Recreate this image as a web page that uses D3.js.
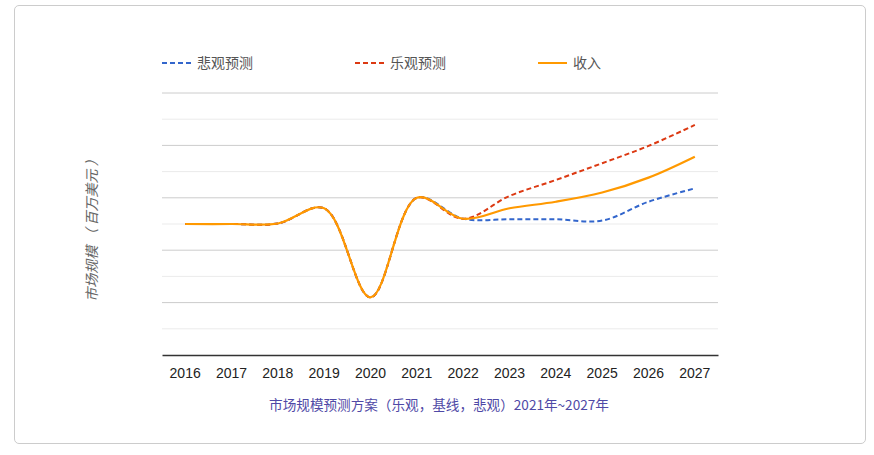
<!DOCTYPE html>
<html>
<head>
<meta charset="utf-8">
<script src="https://cdn.jsdelivr.net/npm/d3@7"></script>
<style>
  body { margin: 0; background: #fff; font-family: "Noto Sans CJK SC", "Noto Sans", sans-serif; }
  #card { position: absolute; left: 14px; top: 5px; width: 852px; height: 439px;
          border: 1px solid #ccc; border-radius: 5px; box-sizing: border-box; }
</style>
</head>
<body>
<div id="card"></div>
<svg id="chart" width="874" height="455" style="position:absolute;left:0;top:0"></svg>
<script>
// données
const years = ["2016","2017","2018","2019","2020","2021","2022","2023","2024","2025","2026","2027"];
const pessimiste = [5.0, 5.0, 5.02, 5.6, 2.2, 6.0, 5.2, 5.18, 5.18, 5.13, 5.85, 6.36];
const optimiste  = [5.0, 5.0, 5.02, 5.6, 2.2, 6.0, 5.2, 6.07, 6.68, 7.32, 7.98, 8.78];
const revenus    = [5.0, 5.0, 5.02, 5.6, 2.2, 6.0, 5.2, 5.6, 5.85, 6.2, 6.77, 7.57];
const gridValues = [1, 2, 3, 4, 5, 6, 7, 8, 9, 10];

const series = [
  { name: "悲观预测", values: pessimiste, color: "#3366cc", dash: "5,3" },
  { name: "乐观预测", values: optimiste, color: "#dc3912", dash: "5,3" },
  { name: "收入", values: revenus, color: "#ff9900", dash: null }
];

const svg = d3.select("#chart");
const plotLeft = 162, plotRight = 718, plotTop = 93, plotBottom = 355;

const x = d3.scaleBand().domain(years).range([plotLeft, plotRight]);
const y = d3.scaleLinear().domain([0, 10]).range([plotBottom, plotTop]);

// lignes de la grille
svg.append("g").selectAll("line")
  .data(gridValues)
  .join("line")
  .attr("x1", plotLeft).attr("x2", plotRight)
  .attr("y1", d => y(d)).attr("y2", d => y(d))
  .attr("stroke", d => d % 2 === 0 ? "#cccccc" : "#ebebeb")
  .attr("stroke-width", 1);

// axe X
const xAxis = svg.append("g")
  .attr("transform", `translate(0,${plotBottom})`)
  .call(d3.axisBottom(x).tickSize(0).tickPadding(13));
xAxis.select(".domain").attr("stroke", "#333").attr("stroke-width", 1.5);
xAxis.selectAll("text")
  .attr("font-size", 14)
  .attr("fill", "#222")
  .attr("font-family", "Arial, 'Liberation Sans', sans-serif");

// courbes
const line = d3.line()
  .x((d, i) => x(years[i]) + x.bandwidth() / 2)
  .y(d => y(d))
  .curve(d3.curveCatmullRom);

svg.append("g").selectAll("path")
  .data(series)
  .join("path")
  .attr("d", d => line(d.values))
  .attr("fill", "none")
  .attr("stroke", d => d.color)
  .attr("stroke-width", d => d.dash ? 2 : 2.2)
  .attr("stroke-dasharray", d => d.dash);

// légende
const legendX = [162, 355, 538];
const legend = svg.append("g").selectAll("g")
  .data(series)
  .join("g")
  .attr("transform", (d, i) => `translate(${legendX[i]},63)`);
legend.append("line")
  .attr("x1", 0).attr("x2", 29)
  .attr("stroke", d => d.color)
  .attr("stroke-width", 2)
  .attr("stroke-dasharray", d => d.dash);
legend.append("text")
  .attr("x", 35).attr("y", 5)
  .attr("font-size", 14)
  .attr("fill", "#555")
  .text(d => d.name);

// titre de l'axe Y
svg.append("text")
  .attr("transform", "translate(97,227) rotate(-90)")
  .attr("text-anchor", "middle")
  .attr("font-size", 14)
  .attr("font-style", "italic")
  .attr("fill", "#666")
  .text("市场规模  （ 百万美元 ）");

// titre du bas
svg.append("text")
  .attr("x", 439).attr("y", 410)
  .attr("text-anchor", "middle")
  .attr("font-size", 13.6)
  .attr("fill", "#4f49a6")
  .text("市场规模预测方案（乐观，基线，悲观）2021年~2027年");
</script>
</body>
</html>
